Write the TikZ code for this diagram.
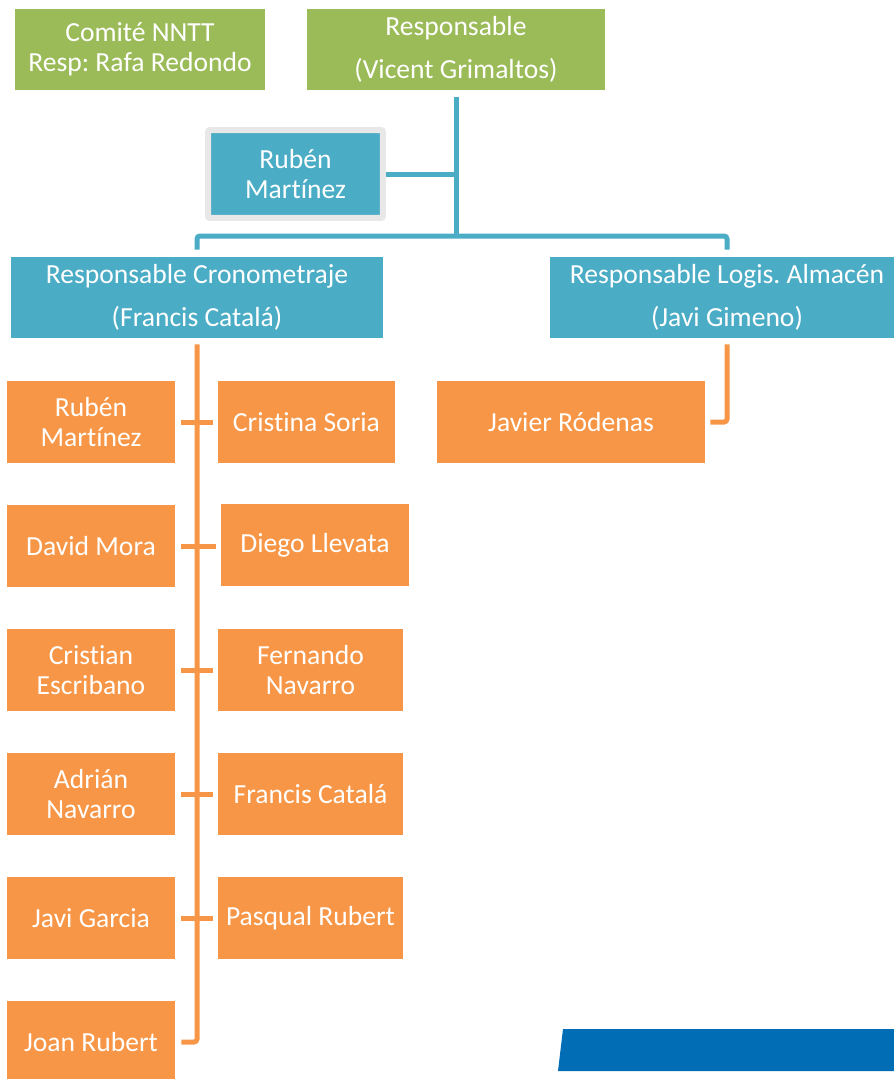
\documentclass[tikz,border=0pt]{standalone}
\usepackage{fontspec}
\setmainfont{Carlito}[Ligatures = NoCommon]
\usepackage{tikz}
\usetikzlibrary{positioning}
\usepackage{xcolor}
\frenchspacing
\definecolor{verde}{HTML}{9BBB59}
\definecolor{turchese}{HTML}{4BACC6}
\definecolor{arancio}{HTML}{F79646}
\definecolor{blu}{HTML}{006DB5}
\tikzset{
    casella/.style = {rectangle, inner sep = 0pt, text = white, align = center,
        font = \fontsize{15.7pt}{17pt}\selectfont},
    verdebox/.style = {casella, fill = verde, minimum height = 1.62cm},
    blubox/.style = {casella, fill = turchese, minimum height = 1.62cm},
    aranciobox/.style = {casella, fill = arancio, minimum height = 1.64cm},
    linea blu/.style = {draw = turchese, line width = 0.1cm},
    linea arancio/.style = {draw = arancio, line width = 0.1cm}
}

\begin{document}
\begin{tikzpicture}[x = 0.02cm, y = -0.02cm]
    \useasboundingbox (0,0) rectangle (893,1079);
    % Parametro di distanza delle linee dai riquadri
    \pgfmathsetmacro{\gap}{0.14}
    % Comitato e responsabile
    \node[verdebox, minimum width = 5.0cm] (comite) at (140,49.5){Comité NNTT\\Resp: Rafa Redondo};
    \node[verdebox, minimum width = 5.96cm] (resp) at (456,49.5){Responsable\\[7.4pt](Vicent Grimaltos)};
    % Assistente
    \node[blubox, minimum width = 3.5cm, minimum height = 1.76cm, draw = gray!18,
        line width = 0.12cm, rounded corners = 0.04cm] (ruben) at (295.5,174){Rubén\\Martínez};
    % Responsabili di area
    \node[blubox, minimum width = 7.44cm] (crono) at (197,297.5){Responsable Cronometraje\\[7.4pt](Francis Catalá)};
    \node[blubox, minimum width = 7.08cm] (logis) at (727,297.5){Responsable Logis. Almacén\\[7.4pt](Javi Gimeno)};
    % Cronometraje, colonna sinistra
    \foreach \n/\y/\t in {s1/422/{Rubén\\Martínez}, s2/546/{David Mora}, s3/670/{Cristian\\Escribano},
        s4/794/{Adrián\\Navarro}, s5/918/{Javi Garcia}, s6/1042/{Joan Rubert}}
        \node[aranciobox, minimum width = 3.36cm] (\n) at (91,\y){\t};
    % Cronometraje, colonna destra
    \foreach \n/\x/\y/\w/\t in {d1/306.5/422/3.54/{Cristina Soria}, d2/315/545/3.76/{Diego Llevata},
        d3/310.5/670/3.7/{Fernando\\Navarro}, d4/310.5/794/3.7/{Francis Catalá},
        d5/310.5/918/3.7/{Pasqual Rubert}}
        \node[aranciobox, minimum width = \w cm] (\n) at (\x,\y){\t};
    % Almacén
    \node[aranciobox, minimum width = 5.36cm] (javier) at (571,422){Javier Ródenas};
    % Linee blu
    \coordinate (nodo) at (456,236);
    \draw[linea blu, shorten <= \gap cm] (resp.south) -- (nodo);
    \draw[linea blu] (ruben.east) -- (ruben.east -| nodo);
    \draw[linea blu, shorten <= \gap cm, shorten >= \gap cm, rounded corners = 0.06cm]
        (crono.north) |- (nodo) -| (logis.north);
    % Linee arancio
    \draw[linea arancio, shorten <= 0.12cm, shorten >= 0.12cm, rounded corners = 0.06cm] (crono.south) |- (s6.east);
    \foreach \s/\d in {s1/d1, s2/d2, s3/d3, s4/d4, s5/d5}
        \draw[linea arancio, shorten <= 0.12cm, shorten >= 0.1cm] (\s.east) -- (\s.east -| \d.west);
    \draw[linea arancio, shorten <= 0.12cm, shorten >= 0.1cm, rounded corners = 0.06cm] (logis.south) |- (javier.east);
    % Banda blu in basso
    \fill[blu] (563,1029) -- (900,1029) -- (900,1071) -- (558,1071) -- cycle;
\end{tikzpicture}
\end{document}
